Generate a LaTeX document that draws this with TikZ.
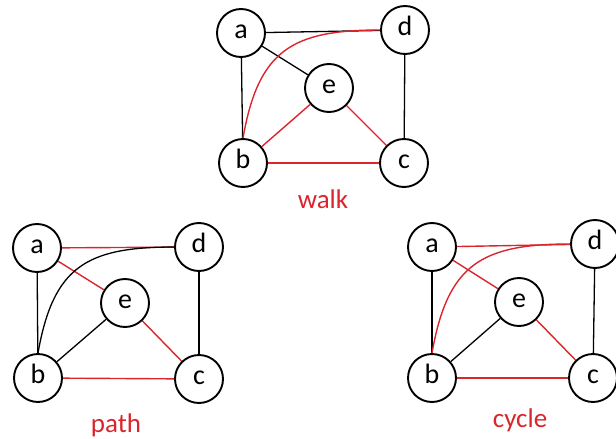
\documentclass[tikz,border=0pt]{standalone}
\usepackage{fontspec}
\setmainfont{Carlito}
\definecolor{pathred}{RGB}{218,37,45}
\begin{document}
\begin{tikzpicture}[x=1pt,y=1pt,
  vertex/.style={circle,draw,line width=1.9pt,minimum size=48pt,inner sep=0pt,
    font=\fontsize{28}{30}\selectfont,text height=12pt,text depth=2pt},
  plain/.style={draw=black,line width=1.3pt},
  chosen/.style={draw=pathred,line width=1.4pt},
  swoop/.style={out=80,in=180,looseness=1.3},
  caption/.style={text=pathred,font=\fontsize{27}{30}\selectfont,anchor=base,inner sep=0pt}]
\useasboundingbox (0,-439) rectangle (616,0);

% --- walk ---
\node[vertex] (wa) at (241,-33) {a};
\node[vertex] (wd) at (405,-30) {d};
\node[vertex] (we) at (329,-88) {e};
\node[vertex] (wb) at (243,-163) {b};
\node[vertex] (wc) at (404,-163) {c};
\draw[plain] (wa) -- (wd);
\draw[plain] (wa) -- (wb);
\draw[plain] (wa) -- (we);
\draw[plain] (wd) -- (wc);
\draw[chosen] (wb) -- (we);
\draw[chosen] (we) -- (wc);
\draw[chosen] (wb) -- (wc);
\draw[chosen] (wb.north) to[swoop] (wd.west);
\node[caption] (wlabel) at (323,-208) {walk};

% --- path ---
\node[vertex] (pa) at (37,-248) {a};
\node[vertex] (pd) at (199,-247) {d};
\node[vertex] (pe) at (125,-303) {e};
\node[vertex] (pb) at (38,-378) {b};
\node[vertex] (pc) at (199,-379) {c};
\draw[chosen] (pa) -- (pd);
\draw[chosen] (pa) -- (pe);
\draw[chosen] (pe) -- (pc);
\draw[chosen] (pb) -- (pc);
\draw[plain] (pa) -- (pb);
\draw[plain] (pb) -- (pe);
\draw[plain] (pd) -- (pc);
\draw[plain] (pb.north) to[swoop] (pd.west);
\node[caption] (plabel) at (116,-432) {path};

% --- cycle ---
\node[vertex] (ca) at (432,-247) {a};
\node[vertex] (cd) at (595,-244) {d};
\node[vertex] (ce) at (519,-302) {e};
\node[vertex] (cb) at (432,-378) {b};
\node[vertex] (cc) at (593,-378) {c};
\draw[chosen] (ca) -- (cd);
\draw[chosen] (ca) -- (ce);
\draw[chosen] (ce) -- (cc);
\draw[chosen] (cb) -- (cc);
\draw[plain] (ca) -- (cb);
\draw[plain] (cb) -- (ce);
\draw[plain] (cd) -- (cc);
\draw[chosen] (cb.north) to[swoop] (cd.west);
\node[caption] (clabel) at (520,-427) {cycle};
\end{tikzpicture}
\end{document}
